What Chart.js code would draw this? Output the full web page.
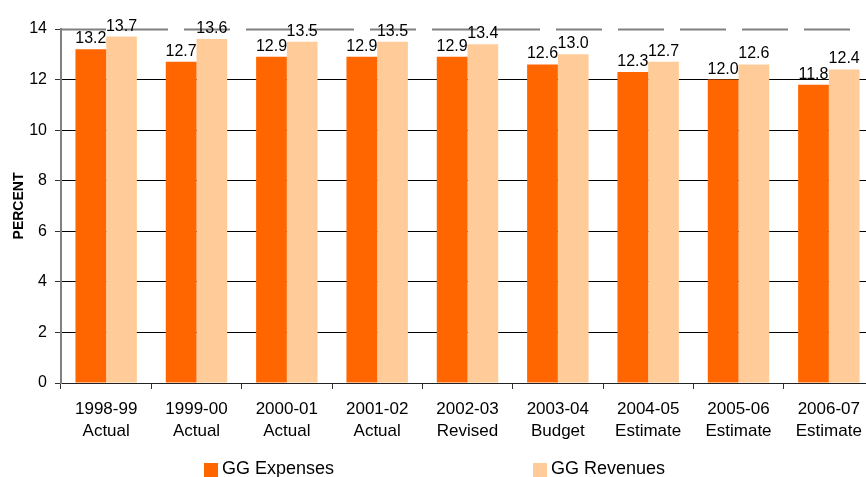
<!DOCTYPE html>
<html>
<head>
<meta charset="utf-8">
<script src="https://cdn.jsdelivr.net/npm/chart.js@4"></script>
<style>
  html, body { margin: 0; padding: 0; background: #fff; overflow: hidden; }
  #wrap { position: relative; width: 866px; height: 477px; overflow: hidden; }
  #wrap canvas { position: absolute; left: 0; top: 0; }
  .leg { position: absolute; top: 459px; font: 18px "Liberation Sans", Arial, sans-serif; line-height: 18px; color: #000; white-space: nowrap; }
  .leg span { display: inline-block; width: 14px; height: 14px; margin-right: 4px; vertical-align: -3px; }
</style>
</head>
<body>
<div id="wrap">
  <canvas id="chart" width="880" height="477" style="width:880px;height:477px"></canvas>
  <div class="leg" style="left:204px"><span style="background:#FF6600"></span>GG Expenses</div>
  <div class="leg" style="left:533px"><span style="background:#FFCC99"></span>GG Revenues</div>
</div>
<script>
const years = ['1998-99', '1999-00', '2000-01', '2001-02', '2002-03', '2003-04', '2004-05', '2005-06', '2006-07'];
const status = ['Actual', 'Actual', 'Actual', 'Actual', 'Revised', 'Budget', 'Estimate', 'Estimate', 'Estimate'];
const expenses = [13.2, 12.7, 12.9, 12.9, 12.9, 12.6, 12.3, 12.0, 11.8];
const revenues = [13.7, 13.6, 13.5, 13.5, 13.4, 13.0, 12.7, 12.6, 12.4];
const yTicks = [0, 2, 4, 6, 8, 10, 12, 14];

const fontFamily = '"Liberation Sans", Arial, sans-serif';

// value labels above each bar
const barLabels = {
    id: 'barLabels',
    afterDatasetsDraw(chart) {
        const ctx = chart.ctx;
        ctx.save();
        ctx.font = '16px ' + fontFamily;
        ctx.fillStyle = '#000';
        ctx.textAlign = 'center';
        ctx.textBaseline = 'alphabetic';
        chart.data.datasets.forEach((ds, i) => {
            chart.getDatasetMeta(i).data.forEach((bar, j) => {
                ctx.fillText(ds.data[j].toFixed(1), bar.x, bar.y - 6);
            });
        });
        ctx.restore();
    }
};

// dashed grey line at the top tick
const topLine = {
    id: 'topLine',
    beforeDatasetsDraw(chart) {
        const ctx = chart.ctx;
        const area = chart.chartArea;
        const y = Math.round(chart.scales.y.getPixelForValue(14)) + 0.5;
        ctx.save();
        ctx.strokeStyle = '#808080';
        ctx.lineWidth = 2;
        ctx.setLineDash([46, 16]);
        ctx.beginPath();
        ctx.moveTo(area.left - 1, y);
        ctx.lineTo(area.right, y);
        ctx.stroke();
        ctx.restore();
    }
};

new Chart(document.getElementById('chart').getContext('2d'), {
    type: 'bar',
    data: {
        labels: years.map((y, i) => [y, status[i]]),
        datasets: [{
            label: 'GG Expenses',
            data: expenses,
            backgroundColor: '#FF6600',
            borderWidth: 0
        }, {
            label: 'GG Revenues',
            data: revenues,
            backgroundColor: '#FFCC99',
            borderWidth: 0
        }]
    },
    options: {
        responsive: false,
        animation: false,
        layout: { padding: { top: 29, right: 6, left: 0, bottom: 0 } },
        datasets: {
            bar: { categoryPercentage: 0.68, barPercentage: 1.0 }
        },
        plugins: {
            legend: { display: false },
            tooltip: { enabled: false }
        },
        scales: {
            x: {
                afterFit: (s) => { s.height = 94; },
                grid: {
                    offset: true,
                    drawOnChartArea: false,
                    drawTicks: true,
                    tickLength: 6,
                    color: '#333'
                },
                border: { color: '#222', width: 1 },
                ticks: {
                    color: '#000',
                    padding: 9,
                    maxRotation: 0,
                    autoSkip: false,
                    font: { family: fontFamily, size: 17, lineHeight: 1.3 }
                }
            },
            y: {
                min: 0,
                max: 14,
                afterFit: (s) => { s.width = 61; },
                afterBuildTicks: (s) => { s.ticks = yTicks.map(v => ({ value: v })); },
                grid: {
                    color: (c) => c.tick && c.tick.value === 14 ? 'rgba(0,0,0,0)' : '#000',
                    tickColor: '#333',
                    tickLength: 6,
                    lineWidth: 1
                },
                border: { color: '#808080', width: 2 },
                ticks: {
                    color: '#000',
                    padding: 8,
                    font: { family: fontFamily, size: 16 }
                },
                title: {
                    display: true,
                    text: 'PERCENT',
                    color: '#000',
                    padding: { top: 11, bottom: 0 },
                    font: { family: fontFamily, size: 14, weight: 'bold' }
                }
            }
        }
    },
    plugins: [topLine, barLabels]
});
</script>
</body>
</html>
